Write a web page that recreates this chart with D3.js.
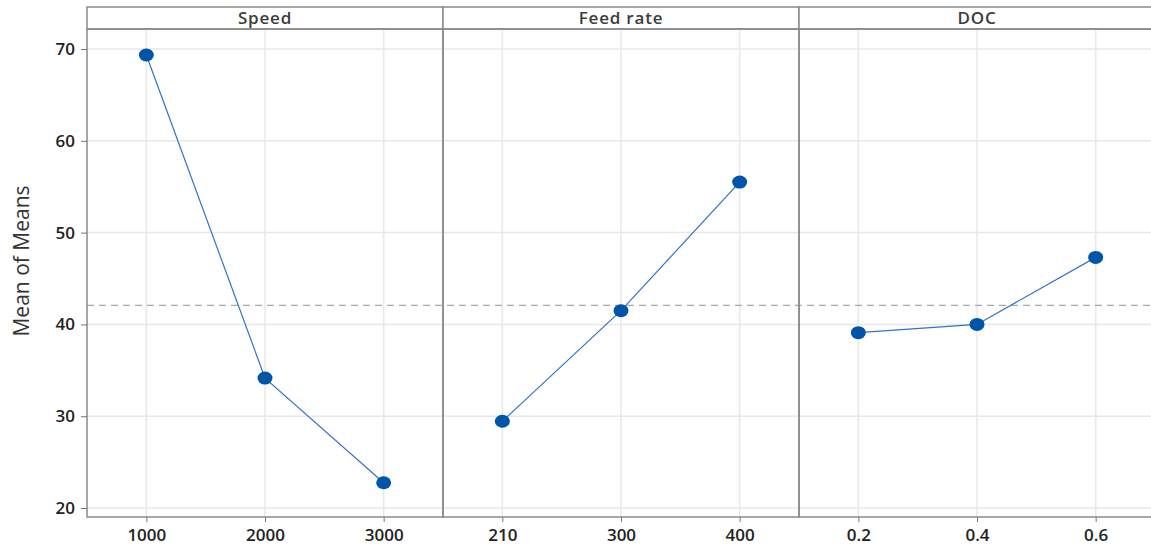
<!DOCTYPE html>
<html>
<head>
<meta charset="utf-8">
<script src="https://cdn.jsdelivr.net/npm/d3@7"></script>
<style>
  body { margin: 0; background: #fff; }
  svg { display: block; font-family: "Open Sans", "Noto Sans", sans-serif; }
  .grid line { stroke: #e8e8e8; stroke-width: 1.5; }
  .tick text { fill: #222; font-size: 17px; font-weight: 600; font-family: "Open Sans", "Noto Sans", sans-serif; }
</style>
</head>
<body>
<svg width="1151" height="546"></svg>
<script>
// factors and their levels
const factors = ['Speed', 'Feed rate', 'DOC'];
const speedLevels = ['1000', '2000', '3000'];
const feedLevels = ['210', '300', '400'];
const docLevels = ['0.2', '0.4', '0.6'];

// means of means per level
const speedMeans = [69.35, 34.15, 22.75];
const feedMeans = [29.45, 41.5, 55.5];
const docMeans = [39.1, 40.0, 47.3];

const yTicks = [20, 30, 40, 50, 60, 70];
const grandMean = 42.08;

const panels = [
  { name: factors[0], levels: speedLevels, values: speedMeans },
  { name: factors[1], levels: feedLevels, values: feedMeans },
  { name: factors[2], levels: docLevels, values: docMeans }
];

const svg = d3.select('svg');

const leftX = 87;
const panelW = 356;
const topY = 7;
const headH = 22;
const plotTop = topY + headH;
const plotBottom = 517;

const yScale = d3.scaleLinear()
  .domain([19.02, 72.18])
  .range([plotBottom, plotTop]);

const makeX = (p, i) => d3.scalePoint()
  .domain(p.levels)
  .range([leftX + i * panelW, leftX + (i + 1) * panelW])
  .padding(0.5);

// y gridlines across all panels
svg.append('g')
  .attr('class', 'grid')
  .selectAll('line')
  .data(yTicks)
  .enter()
  .append('line')
  .attr('x1', leftX)
  .attr('x2', leftX + panelW * 3)
  .attr('y1', d => yScale(d))
  .attr('y2', d => yScale(d));

panels.forEach((p, i) => {
  const x0 = leftX + i * panelW;
  const xScale = makeX(p, i);

  // vertical gridlines
  svg.append('g')
    .attr('class', 'grid')
    .selectAll('line')
    .data(p.levels)
    .enter()
    .append('line')
    .attr('x1', d => xScale(d))
    .attr('x2', d => xScale(d))
    .attr('y1', plotTop)
    .attr('y2', plotBottom);

  // x axis
  const xAxis = svg.append('g')
    .attr('transform', `translate(0, ${plotBottom})`)
    .call(d3.axisBottom(xScale).tickSize(5).tickPadding(5));
  xAxis.select('.domain').remove();
  xAxis.selectAll('.tick line').attr('stroke', '#777');
  xAxis.selectAll('.tick text').attr('dy', '0.8em');

  // header strip
  svg.append('rect')
    .attr('x', x0)
    .attr('y', topY)
    .attr('width', panelW)
    .attr('height', headH)
    .attr('fill', '#fff')
    .attr('stroke', '#8a8a8a')
    .attr('stroke-width', 1.5);

  svg.append('text')
    .attr('x', x0 + panelW / 2)
    .attr('y', topY + headH / 2 + 6)
    .attr('text-anchor', 'middle')
    .attr('font-size', 17)
    .attr('font-weight', 600)
    .attr('letter-spacing', 0.8)
    .attr('fill', '#3c3c3c')
    .text(p.name);
});

// dashed grand mean line
svg.append('line')
  .attr('x1', leftX)
  .attr('x2', leftX + panelW * 3)
  .attr('y1', yScale(grandMean))
  .attr('y2', yScale(grandMean))
  .attr('stroke', '#a8a8a8')
  .attr('stroke-width', 1.3)
  .attr('stroke-dasharray', '7,5');

// panel frames
panels.forEach((p, i) => {
  svg.append('rect')
    .attr('x', leftX + i * panelW)
    .attr('y', plotTop)
    .attr('width', panelW)
    .attr('height', plotBottom - plotTop)
    .attr('fill', 'none')
    .attr('stroke', '#8a8a8a')
    .attr('stroke-width', 1.5);
});

// lines and points
panels.forEach((p, i) => {
  const xScale = makeX(p, i);
  const pts = p.levels.map((l, j) => ({ level: l, value: p.values[j] }));

  const line = d3.line()
    .x(d => xScale(d.level))
    .y(d => yScale(d.value));

  svg.append('path')
    .datum(pts)
    .attr('d', line)
    .attr('fill', 'none')
    .attr('stroke', '#2f74c8')
    .attr('stroke-width', 1.2);

  svg.append('g')
    .selectAll('ellipse')
    .data(pts)
    .enter()
    .append('ellipse')
    .attr('cx', d => xScale(d.level))
    .attr('cy', d => yScale(d.value))
    .attr('rx', 7.5)
    .attr('ry', 6.5)
    .attr('fill', '#0055a8');
});

// y axis
const yAxis = svg.append('g')
  .attr('transform', `translate(${leftX}, 0)`)
  .call(d3.axisLeft(yScale).tickValues(yTicks).tickSize(6).tickPadding(6));
yAxis.select('.domain').remove();
yAxis.selectAll('.tick line').attr('stroke', '#777');

svg.append('text')
  .attr('transform', `translate(29, 261) rotate(-90)`)
  .attr('text-anchor', 'middle')
  .attr('font-size', 21)
  .attr('fill', '#333')
  .text('Mean of Means');
</script>
</body>
</html>
